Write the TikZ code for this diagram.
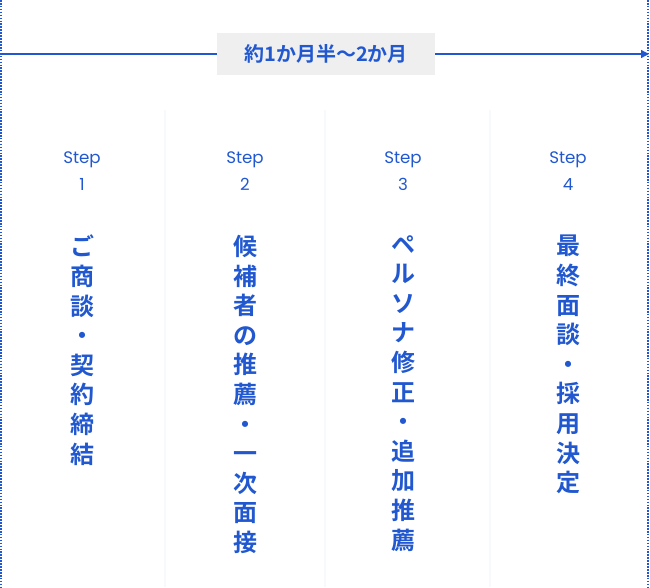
\documentclass[tikz,border=0pt]{standalone}
\usepackage{fontspec}
\newfontfamily\jp{Noto Sans CJK JP Bold}
\newfontfamily\stepfont{Poppins}
\usetikzlibrary{positioning,arrows.meta}
\definecolor{flowblue}{HTML}{2158D0}
\definecolor{boxgray}{HTML}{EFEFEF}
\definecolor{sepgray}{HTML}{F8F9FC}

\tikzset{
  steplabel/.style={text=flowblue,font=\stepfont\fontsize{12.5}{20}\selectfont,align=center},
  vtext/.style={text=flowblue,font=\jp\fontsize{18}{22.2}\selectfont,align=center,anchor=north,inner sep=0pt},
}

\begin{document}
\begin{tikzpicture}[x=0.75pt,y=-0.75pt]
   \useasboundingbox (0,0) rectangle (650,587);
   % borders and column separators
   \draw[flowblue,densely dotted,line width=1.2pt] (1,0) -- (1,587);
   \draw[flowblue,densely dotted,line width=1.2pt] (648,0) -- (648,587);
   \foreach \x in {165,325,490} \draw[sepgray,line width=1pt] (\x,110) -- (\x,587);
   % period
   \node (period) [fill=boxgray,text=flowblue,font=\jp\fontsize{15}{18}\selectfont,
      minimum width=163.5pt,minimum height=31.5pt] at (326,54) {約1か月半〜2か月};
   \coordinate (start) at (0,54);
   \coordinate (end) at (649,54);
   \draw[flowblue,line width=1pt] (start) -- (period);
   \draw[flowblue,line width=1pt,-{Triangle[length=6pt,width=6pt]}] (period) -- (end);
   % steps
   \node (s1) [steplabel] at (82,171) {Step\\1};
   \node (s2) [steplabel] at (245,171) {Step\\2};
   \node (s3) [steplabel] at (403,171) {Step\\3};
   \node (s4) [steplabel] at (568,171) {Step\\4};
   \node (t1) [vtext,below=30pt of s1] {ご\\商\\談\\・\\契\\約\\締\\結};
   \node (t2) [vtext,below=30pt of s2] {候\\補\\者\\の\\推\\薦\\・\\一\\次\\面\\接};
   \node (t3) [vtext,below=30pt of s3] {ペ\\ル\\ソ\\ナ\\修\\正\\・\\追\\加\\推\\薦};
   \node (t4) [vtext,below=30pt of s4] {最\\終\\面\\談\\・\\採\\用\\決\\定};
\end{tikzpicture}
\end{document}
